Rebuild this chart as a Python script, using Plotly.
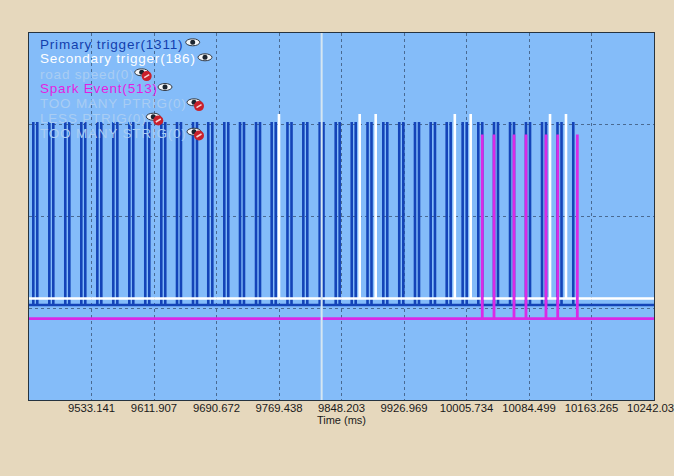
# trigger log chart
import plotly.graph_objects as go

# pulse times in ms
primary_times = [9459.8, 9464.8, 9480.0, 9485.0, 9500.1, 9505.2, 9520.3, 9525.3, 9540.5, 9545.5,
                 9560.6, 9565.7, 9580.8, 9585.8, 9600.9, 9606.0, 9621.1, 9626.1, 9640.9, 9645.9,
                 9661.1, 9666.1, 9680.3, 9685.4, 9700.5, 9705.5, 9720.3, 9725.3, 9740.5, 9745.5,
                 9760.2, 9765.3, 9780.1, 9785.2, 9800.1, 9805.1, 9820.7, 9825.5, 9840.9, 9845.9,
                 9861.1, 9866.1, 9881.0, 9886.0, 9900.9, 9905.9, 9921.0, 9926.1, 9940.8, 9945.9,
                 9960.6, 9966.0, 9980.8, 9985.8, 10000.9, 10006.0, 10020.6, 10025.6, 10040.4, 10045.4,
                 10060.6, 10065.6, 10080.7, 10085.8, 10100.9, 10105.9, 10120.4, 10125.5, 10140.3]
secondary_times = [9769.4, 9871.1, 9891.3, 9991.0, 10011.0, 10111.0, 10131.1]
spark_times = [10025.6, 10040.4, 10065.6, 10080.7, 10105.9, 10120.7, 10145.4]
cursor_time = 9823.2

# signal levels (low, high)
primary_levels = [1.035, 3.03]
secondary_levels = [1.106, 3.117]
spark_levels = [0.888, 2.894]

tick_vals = [9533.141, 9611.907, 9690.672, 9769.438, 9848.203, 9926.969, 10005.734, 10084.499, 10163.265, 10242.031]
tick_text = ["9533.141", "9611.907", "9690.672", "9769.438", "9848.203", "9926.969", "10005.734", "10084.499", "10163.265", "10242.03"]
x_range = [9454.375, 10242.031]

legend_names = ["Primary trigger(1311)", "Secondary trigger(186)", "road speed(0)", "Spark Event(513)",
                "TOO MANY PTRIG(0)", "LESS PTRIG(0)", "TOO MANY STRIG(0)"]
legend_colors = ["#123fae", "#ffffff", "#a9cdf3", "#e21fe2", "#a9cdf3", "#a9cdf3", "#a9cdf3"]
legend_y = [44, 58.5, 74, 88.5, 103.5, 118.5, 133.5]
eye_x = [192.7, 205, 141.7, 165, 194, 153.3, 194]
eye_y = [42.3, 57.3, 72.3, 87, 102.3, 116.7, 131.7]
legend_off = [False, False, True, False, True, True, True]

BG = "#e6d8bd"
PLOT_BG = "#84bcf9"
L, R, T, B = 29, 654, 33, 400


def px(x):
    return (x - L) / (R - L)


def py(y):
    return (B - y) / (B - T)


def pulses(times, levels):
    low, high = levels
    xs = [x_range[0]]
    ys = [low]
    for t in times:
        xs += [t, t, t]
        ys += [low, high, low]
    xs.append(x_range[1])
    ys.append(low)
    return xs, ys


fig = go.Figure()
for times, levels, color, width, name in [
    (primary_times, primary_levels, "#1444b8", 2.6, "Primary trigger"),
    (secondary_times, secondary_levels, "#ffffff", 2.6, "Secondary trigger"),
    (spark_times, spark_levels, "#d92ae6", 2.8, "Spark Event"),
]:
    xs, ys = pulses(times, levels)
    fig.add_trace(go.Scatter(x=xs, y=ys, mode="lines", name=name,
                             line=dict(color=color, width=width), hoverinfo="skip"))

shapes = [dict(type="line", xref="x", yref="paper", x0=cursor_time, x1=cursor_time, y0=0, y1=1,
               line=dict(color="#d5e6f2", width=2))]
annotations = [dict(text=tick_text[-1], xref="paper", yref="paper", x=px(626), y=py(408), xanchor="left",
                    yanchor="middle", showarrow=False, xshift=-1,
                    font=dict(family="Liberation Sans", size=11.3, color="#1a1a1a"))]

# hand made legend, text and eye icons
for name, color, ly, ex, ey, off in zip(legend_names, legend_colors, legend_y, eye_x, eye_y, legend_off):
    annotations.append(dict(text=name, xref="paper", yref="paper", x=px(39), y=py(ly), xanchor="left",
                            yanchor="middle", showarrow=False, xshift=-1,
                            font=dict(family="Liberation Sans", size=13.5, color=color)))
    shapes.append(dict(type="circle", xref="paper", yref="paper", x0=px(ex - 7), x1=px(ex + 7),
                       y0=py(ey + 3.5), y1=py(ey - 3.5), fillcolor="#f4f6f8",
                       line=dict(color="#333a44", width=1)))
    shapes.append(dict(type="circle", xref="paper", yref="paper", x0=px(ex - 2.5), x1=px(ex + 2.5),
                       y0=py(ey + 2.5), y1=py(ey - 2.5), fillcolor="#1c2530", line=dict(width=0)))
    if off:
        rx, ry = ex + 5, ey + 3.8
        shapes.append(dict(type="circle", xref="paper", yref="paper", x0=px(rx - 5), x1=px(rx + 5),
                           y0=py(ry + 5), y1=py(ry - 5), fillcolor="#c9202b", line=dict(width=0)))
        shapes.append(dict(type="line", xref="paper", yref="paper", x0=px(rx - 2.5), x1=px(rx + 2.5),
                           y0=py(ry + 1.5), y1=py(ry - 1.5), line=dict(color="#f6d6d6", width=1.5)))

fig.update_layout(
    width=674, height=476,
    margin=dict(l=L, r=674 - R, t=T, b=476 - B),
    paper_bgcolor=BG, plot_bgcolor=PLOT_BG,
    showlegend=False,
    shapes=shapes, annotations=annotations,
    font=dict(family="Liberation Sans", size=11, color="#1a1a1a"),
)
# last label would run past the page edge, so it is an annotation instead of a tick label
fig.update_xaxes(range=x_range, tickmode="array", tickvals=tick_vals, ticktext=tick_text[:-1] + [""],
                 ticks="", showgrid=True, gridcolor="#4a6a92", griddash="3px,3px", gridwidth=1,
                 zeroline=False, showline=True, linecolor="#26333f", linewidth=1, mirror=True,
                 title=dict(text="Time (ms)", standoff=0, font=dict(size=11)),
                 ticklabelstandoff=-3, tickfont=dict(size=11.3))
fig.update_yaxes(range=[0, 4], tickmode="array", tickvals=[1, 2, 3], showticklabels=False,
                 ticks="", showgrid=True, gridcolor="#4a6a92", griddash="3px,3px", gridwidth=1,
                 zeroline=False, showline=True, linecolor="#26333f", linewidth=1, mirror=True)

# legend text in the picture is spaced wider than the font, keep it left aligned
post = """
document.body.style.margin='0';document.body.style.overflow='hidden';
document.querySelectorAll('.annotation-text').forEach(function (t) {
    if (parseFloat(t.style.fontSize) > 12) {
        var box = t.getBBox();
        t.setAttribute('text-anchor', 'start');
        t.setAttribute('x', String(box.x));
        t.style.letterSpacing = '0.8px';
    }
});
"""
fig.write_html("out.html", config=dict(displayModeBar=False), post_script=post)
